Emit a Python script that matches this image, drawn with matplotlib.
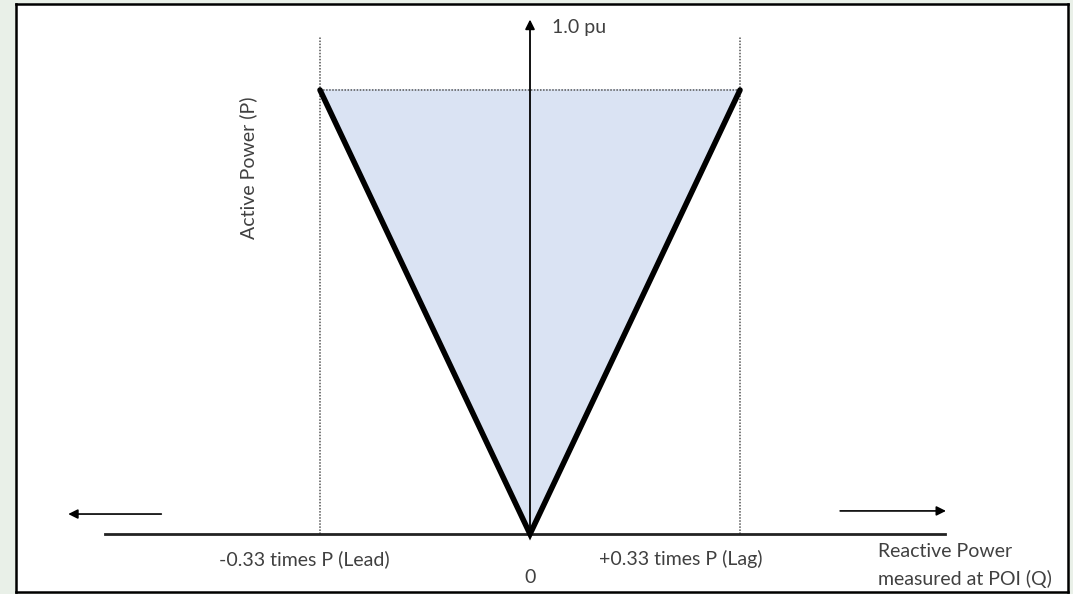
import matplotlib.pyplot as plt

# capability curve data (per unit)
q_lead = -0.33
q_lag = 0.33
p_max = 1.0
tri_q = [q_lead, 0.0, q_lag]
tri_p = [p_max, 0.0, p_max]

q_labels = ["-0.33 times P (Lead)", "0", "+0.33 times P (Lag)"]
txtColor = "#404040"

fig = plt.figure(figsize=(10.73, 5.94), dpi=100, facecolor="#e9f0e8")
ax = fig.add_axes([16/1073, 2/594, 1052/1073, 588/594])
ax.set_facecolor("white")
ax.set_xlim(-0.8077, 0.8454)
ax.set_ylim(-0.1306, 1.1937)
ax.set_xticks([])
ax.set_yticks([])
for s in ax.spines.values():
	s.set_linewidth(1.8)
	s.set_color("black")

plt.rcParams['font.family'] = ['Lato', 'DejaVu Sans']

# filled region
ax.fill(tri_q, tri_p, color="#dae3f3", zorder=1)

# dotted limit lines
for q in [q_lead, q_lag]:
	ax.plot([q, q], [0, 1.12], color="#555555", lw=1.1, ls=(0, (1, 1)), zorder=2)
ax.plot([q_lead, q_lag], [p_max, p_max], color="#555555", lw=1.1, ls=(0, (1, 1)), zorder=2)

# Q axis
ax.plot([-0.668, 0.652], [0, 0], color="#222222", lw=2, zorder=3)

# P axis with arrow
ax.annotate("", xy=(0, 1.165), xytext=(0, 0),
	arrowprops=dict(arrowstyle="-|>", color="black", lw=1.3, mutation_scale=14), zorder=3)
ax.text(0.035, 1.14, "1.0 pu", fontsize=14, color=txtColor, va="center", ha="left")

# triangle edges
ax.plot(tri_q, tri_p, color="black", lw=4, solid_capstyle="round", solid_joinstyle="miter", zorder=4)

# direction arrows
ax.annotate("", xy=(-0.73, 0.045), xytext=(-0.575, 0.045),
	arrowprops=dict(arrowstyle="-|>", color="black", lw=1.2, mutation_scale=14))
ax.annotate("", xy=(0.658, 0.052), xytext=(0.483, 0.052),
	arrowprops=dict(arrowstyle="-|>", color="black", lw=1.2, mutation_scale=14))

# labels
ax.text(-0.354, -0.056, q_labels[0], fontsize=14, color=txtColor, ha="center", va="center")
ax.text(0.0, -0.097, q_labels[1], fontsize=14, color=txtColor, ha="center", va="center")
ax.text(0.237, -0.056, q_labels[2], fontsize=14, color=txtColor, ha="center", va="center")
ax.text(0.547, -0.071, "Reactive Power\nmeasured at POI (Q)", fontsize=14, color=txtColor,
	ha="left", va="center", linespacing=1.7)
ax.text(-0.443, 0.826, "Active Power (P)", fontsize=14, color=txtColor,
	ha="center", va="center", rotation=90)

fig.savefig("out.png", dpi=100, facecolor=fig.get_facecolor())
